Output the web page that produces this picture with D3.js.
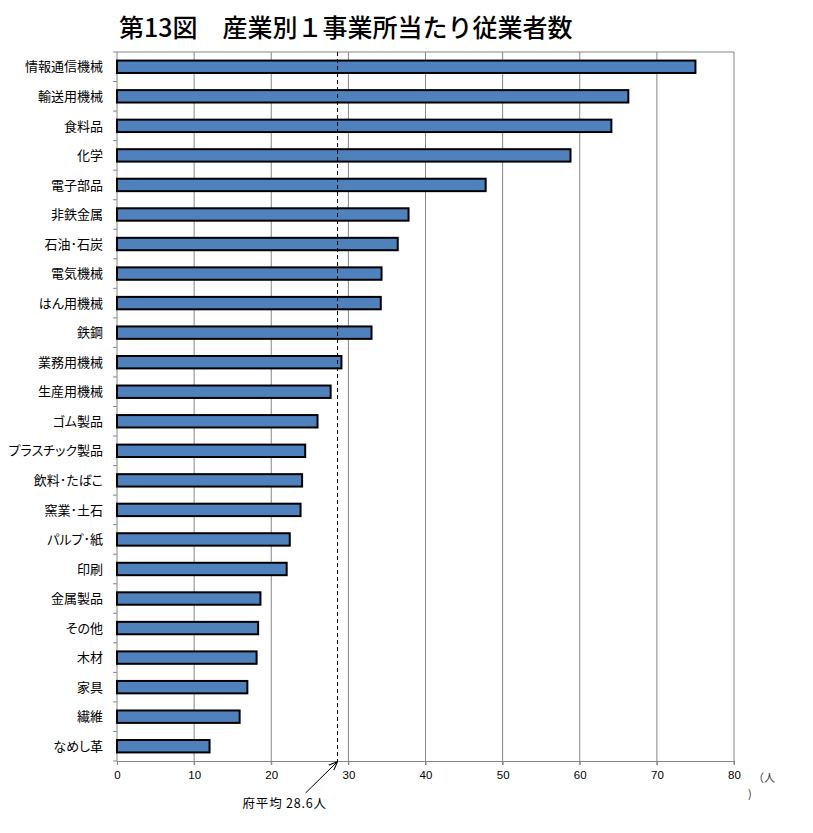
<!DOCTYPE html>
<html>
<head>
<meta charset="utf-8">
<script src="https://cdn.jsdelivr.net/npm/d3@7"></script>
<style>
  body { margin: 0; background: #fff; }
  text { font-family: "Noto Sans CJK JP", sans-serif; }
  .ylab { font-feature-settings: "palt"; }
</style>
</head>
<body>
<div id="chart"></div>
<script>
// industries, largest first
var categories = ["情報通信機械", "輸送用機械", "食料品", "化学", "電子部品", "非鉄金属",
  "石油･石炭", "電気機械", "はん用機械", "鉄鋼", "業務用機械", "生産用機械", "ゴム製品",
  "プラスチック製品", "飲料･たばこ", "窯業･土石", "パルプ･紙", "印刷", "金属製品",
  "その他", "木材", "家具", "繊維", "なめし革"];
// employees per establishment
var values = [75.0, 66.3, 64.1, 58.8, 47.8, 37.8, 36.4, 34.3, 34.2, 33.0, 29.1, 27.7, 26.0,
  24.4, 24.0, 23.8, 22.4, 22.0, 18.6, 18.3, 18.1, 16.9, 15.9, 12.0];
var xTicks = [0, 10, 20, 30, 40, 50, 60, 70, 80];
var average = 28.6;
var avgLabel = "府平均 28.6人";
var title = "第13図　産業別１事業所当たり従業者数";

var data = categories.map(function(c, i) { return { name: c, value: values[i] }; });

var W = 813, H = 833;
var margin = { top: 52, right: 79, bottom: 72, left: 117 };
var width = W - margin.left - margin.right,
    height = H - margin.top - margin.bottom;

var svg = d3.select("#chart").append("svg")
  .attr("width", W).attr("height", H);

// title
svg.append("text")
  .attr("x", 119).attr("y", 37)
  .attr("font-size", 25).attr("font-weight", 500)
  .text(title);

var g = svg.append("g")
  .attr("transform", "translate(" + margin.left + "," + margin.top + ")");

var x = d3.scaleLinear().domain([0, 80]).range([0, width]);
var y = d3.scaleBand().domain(categories).range([0, height])
  .paddingInner(0.58).paddingOuter(0.29);

// gridlines
g.selectAll(".grid").data(xTicks.slice(1)).enter().append("line")
  .attr("x1", function(d) { return x(d); }).attr("x2", function(d) { return x(d); })
  .attr("y1", 0).attr("y2", height + 4)
  .attr("stroke", "#868686").attr("stroke-width", 1);

// plot top border
g.append("line")
  .attr("x1", 0).attr("x2", x(80)).attr("y1", 0).attr("y2", 0)
  .attr("stroke", "#868686");

// x axis
var xAxis = g.append("g")
  .attr("transform", "translate(0," + height + ")")
  .call(d3.axisBottom(x).tickValues(xTicks).tickSize(4).tickPadding(6));
xAxis.select(".domain").attr("stroke", "#868686");
xAxis.selectAll(".tick line").attr("stroke", "#868686");
xAxis.selectAll("text")
  .attr("font-size", 11.5).attr("fill", "#000")
  .style("font-family", "'Liberation Sans', sans-serif");

// unit label, wrapped like the original
g.append("text").attr("x", x(80) + 19).attr("y", height + 21)
  .attr("font-size", 11).attr("fill", "#333").text("（人");
g.append("text").attr("x", x(80) + 14).attr("y", height + 37)
  .attr("font-size", 11).attr("fill", "#333").text(")");

// y axis with ticks on band boundaries
var step = y.step();
var edges = categories.map(function(c) { return y(c) - (step - y.bandwidth()) / 2; });
edges.push(height);
g.append("line").attr("x1", 0).attr("x2", 0).attr("y1", 0).attr("y2", height)
  .attr("stroke", "#868686");
g.selectAll(".ytick").data(edges).enter().append("line")
  .attr("x1", -4).attr("x2", 0)
  .attr("y1", function(d) { return d; }).attr("y2", function(d) { return d; })
  .attr("stroke", "#868686");

g.selectAll(".ylab").data(data).enter().append("text")
  .attr("class", "ylab")
  .attr("x", -14)
  .attr("y", function(d) { return y(d.name) + y.bandwidth() / 2; })
  .attr("dy", "0.36em")
  .attr("text-anchor", "end")
  .attr("font-size", 13)
  .text(function(d) { return d.name; });

// bars
g.selectAll(".bar").data(data).enter().append("rect")
  .attr("x", x(0))
  .attr("y", function(d) { return y(d.name); })
  .attr("width", function(d) { return x(d.value) - x(0); })
  .attr("height", y.bandwidth())
  .attr("fill", "#4F81BD")
  .attr("stroke", "#000").attr("stroke-width", 2);

// average line
g.append("line")
  .attr("x1", x(average)).attr("x2", x(average))
  .attr("y1", 0).attr("y2", height)
  .attr("stroke", "#000").attr("stroke-width", 1)
  .attr("stroke-dasharray", "4,3");

// arrow + label
svg.append("defs").append("marker")
  .attr("id", "arr").attr("viewBox", "0 0 10 10")
  .attr("refX", 10).attr("refY", 5)
  .attr("markerWidth", 9).attr("markerHeight", 9)
  .attr("orient", "auto")
  .append("path").attr("d", "M0,1 L10,5 L0,9")
  .attr("fill", "none").attr("stroke", "#000").attr("stroke-width", 1.2);

g.append("line")
  .attr("x1", x(average) - 32).attr("y1", height + 32)
  .attr("x2", x(average)).attr("y2", height + 0.5)
  .attr("stroke", "#000").attr("stroke-width", 1)
  .attr("marker-end", "url(#arr)");

g.append("text")
  .attr("x", x(average) - 95).attr("y", height + 47)
  .attr("font-size", 12.5).attr("letter-spacing", 0.8)
  .text(avgLabel);
</script>
</body>
</html>
